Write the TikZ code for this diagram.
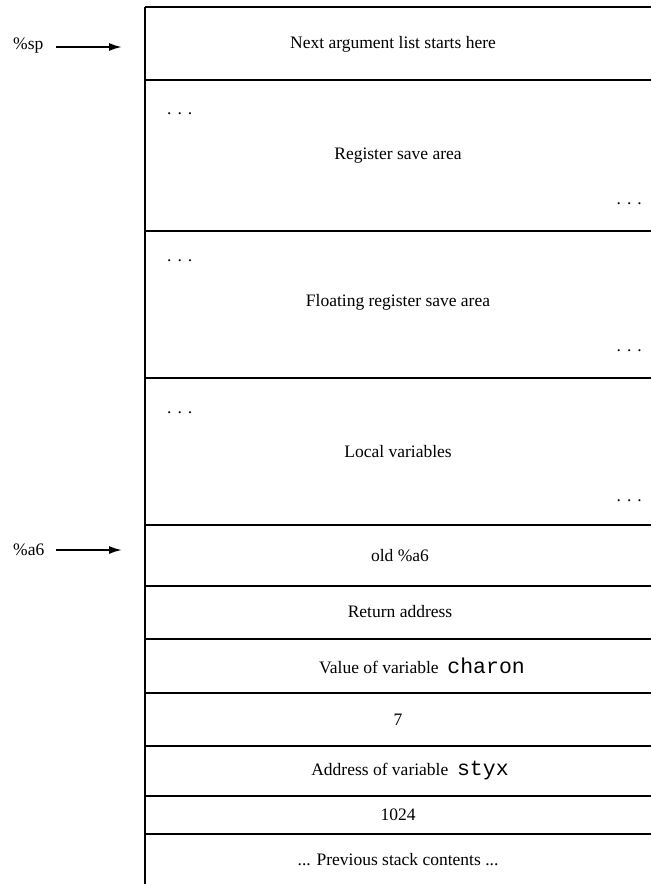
\documentclass[tikz,border=0pt]{standalone}
\usepackage{fontspec}
\setmainfont{Liberation Serif}
\newfontfamily\cmono{Liberation Mono}
\usetikzlibrary{arrows.meta}
\begin{document}
\begin{tikzpicture}[x=1pt,y=-1pt,
  rule/.style={line width=1.4pt},
  celltext/.style={font=\fontsize{17.5}{20}\selectfont, inner sep=0pt},
  dots/.style={font=\fontsize{17.5}{20}\selectfont, inner sep=0pt},
  ptr/.style={line width=1.8pt, -{Latex[length=13pt,width=8pt]}},
  reglabel/.style={font=\fontsize{17.5}{20}\selectfont, inner sep=0pt}]
\useasboundingbox (0,0) rectangle (651,884);
% frame
\draw[rule] (145,7) -- (145,884);
\foreach \yy in {7,80,231,378,525,586,639,693,746,796,834}
  \draw[rule] (145,\yy) -- (651,\yy);
% cell texts
\node[celltext] (c1) at (393,44) {Next argument list starts here};
\node[celltext] (c2) at (398,156) {Register save area};
\node[celltext] (c3) at (398,302) {Floating register save area};
\node[celltext] (c4) at (398,452) {Local variables};
\node[celltext] (c5) at (400,556) {old \%a6};
\node[celltext] (c6) at (400,612) {Return address};
\node[celltext] (c7) at (422,666) {Value of variable\hspace{0.5em}{\cmono\fontsize{21.5}{24}\selectfont charon}};
\node[celltext] (c8) at (398,720) {7};
\node[celltext] (c9) at (410,771) {Address of variable\hspace{0.5em}{\cmono\fontsize{21.5}{24}\selectfont styx}};
\node[celltext] (c10) at (398,815) {1024};
\node[celltext] (c11) at (398,860) {... Previous stack contents ...};
% dots
\node[dots,anchor=base west] (d1) at (167,114) {.\hspace{6pt}.\hspace{6pt}.};
\node[dots,anchor=base east] (d2) at (642,204) {.\hspace{6pt}.\hspace{6pt}.};
\node[dots,anchor=base west] (d3) at (167,261) {.\hspace{6pt}.\hspace{6pt}.};
\node[dots,anchor=base east] (d4) at (642,351) {.\hspace{6pt}.\hspace{6pt}.};
\node[dots,anchor=base west] (d5) at (167,413) {.\hspace{6pt}.\hspace{6pt}.};
\node[dots,anchor=base east] (d6) at (642,501) {.\hspace{6pt}.\hspace{6pt}.};
% pointers
\node[reglabel,anchor=west] (sp) at (13,46) {\%sp};
\node[reglabel,anchor=west] (a6) at (13,550) {\%a6};
\coordinate (sptip) at (122,47);
\coordinate (a6tip) at (122,550);
\draw[ptr] (sp.east |- sptip) ++(12,0) -- (sptip);
\draw[ptr] (a6.east |- a6tip) ++(12,0) -- (a6tip);
\end{tikzpicture}
\end{document}
